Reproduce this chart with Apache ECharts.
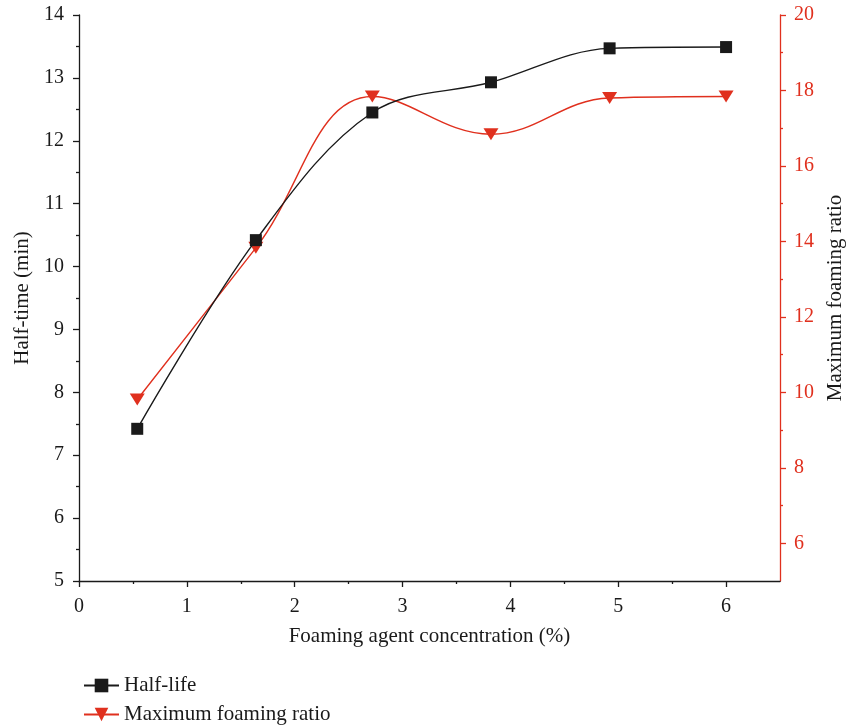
<!DOCTYPE html>
<html>
<head>
<meta charset="utf-8">
<script src="https://cdn.jsdelivr.net/npm/echarts@6/dist/echarts.min.js"></script>
<style>
  html, body { margin: 0; padding: 0; background: #fff; }
  #chart { width: 848px; height: 725px; }
</style>
</head>
<body>
<div id="chart"></div>
<script>
// Foaming agent concentration (%)
const concentration = [0.54, 1.64, 2.72, 3.82, 4.92, 6.0];
// Half-life (min), left axis
const halfLife = [7.42, 10.42, 12.45, 12.93, 13.47, 13.49];
// Maximum foaming ratio, right axis
const foamingRatio = [9.81, 13.83, 17.84, 16.84, 17.80, 17.84];

const xMajor = [0, 1, 2, 3, 4, 5, 6];
const xMinor = [0.5, 1.5, 2.5, 3.5, 4.5, 5.5];
const rightMajor = [6, 8, 10, 12, 14, 16, 18, 20];
const rightMinor = [7, 9, 11, 13, 15, 17, 19];

const BLACK = '#1a1a1a';
const RED = '#e0301e';
const FONT = 'Liberation Serif';
const LABEL_SIZE = 20;
const NAME_SIZE = 21;

const chart = echarts.init(document.getElementById('chart'));

function pairs(xs, ys) { return xs.map((x, i) => [x, ys[i]]); }

chart.setOption({
  animation: false,
  textStyle: { fontFamily: FONT },
  grid: { left: 79, right: 68, top: 15, bottom: 144, outerBoundsMode: 'none', containLabel: false },
  legend: {
    orient: 'vertical',
    left: 83,
    top: 675,
    padding: 0,
    itemWidth: 35,
    itemHeight: 17,
    itemGap: 8,
    textStyle: { fontFamily: FONT, fontSize: NAME_SIZE, color: BLACK },
    data: ['Half-life', 'Maximum foaming ratio']
  },
  xAxis: [
    {
      type: 'value', min: 0, max: 6.5, position: 'bottom',
      name: 'Foaming agent concentration (%)',
      nameLocation: 'middle', nameGap: 45,
      nameTextStyle: { fontFamily: FONT, fontSize: NAME_SIZE, color: BLACK },
      axisLine: { onZero: false, lineStyle: { color: BLACK, width: 1.3 } },
      axisTick: { show: true, length: 6, customValues: xMajor, lineStyle: { color: BLACK, width: 1.3 } },
      axisLabel: { customValues: xMajor, fontFamily: FONT, fontSize: LABEL_SIZE, color: BLACK, margin: 16 },
      splitLine: { show: false }
    },
    {
      type: 'value', min: 0, max: 6.5, position: 'bottom',
      axisLine: { show: false, onZero: false },
      axisTick: { show: true, length: 3, customValues: xMinor, lineStyle: { color: BLACK, width: 1.3 } },
      axisLabel: { show: false },
      splitLine: { show: false }
    }
  ],
  yAxis: [
    {
      type: 'value', min: 5, max: 14, interval: 1, position: 'left',
      name: 'Half-time (min)', nameLocation: 'middle', nameGap: 44, nameRotate: 90,
      nameTextStyle: { fontFamily: FONT, fontSize: NAME_SIZE, color: BLACK },
      axisLine: { show: true, onZero: false, lineStyle: { color: BLACK, width: 1.3 } },
      axisTick: { show: true, length: 6, lineStyle: { color: BLACK, width: 1.3 } },
      minorTick: { show: true, splitNumber: 2, length: 3, lineStyle: { color: BLACK, width: 1.3 } },
      axisLabel: { fontFamily: FONT, fontSize: LABEL_SIZE, color: BLACK, margin: 15 },
      splitLine: { show: false }
    },
    {
      type: 'value', min: 5, max: 20, position: 'right',
      name: 'Maximum foaming ratio', nameLocation: 'middle', nameGap: 38, nameRotate: 90,
      nameTextStyle: { fontFamily: FONT, fontSize: NAME_SIZE, color: BLACK },
      axisLine: { show: true, onZero: false, lineStyle: { color: RED, width: 1.3 } },
      axisTick: { show: true, length: 6, customValues: rightMajor, lineStyle: { color: RED, width: 1.3 } },
      axisLabel: { customValues: rightMajor, fontFamily: FONT, fontSize: LABEL_SIZE, color: RED, margin: 14 },
      splitLine: { show: false }
    },
    {
      type: 'value', min: 5, max: 20, position: 'right',
      axisLine: { show: false, onZero: false },
      axisTick: { show: true, length: 3, customValues: rightMinor, lineStyle: { color: RED, width: 1.3 } },
      axisLabel: { show: false },
      splitLine: { show: false }
    }
  ],
  series: [
    {
      name: 'Half-life', type: 'line', xAxisIndex: 0, yAxisIndex: 0,
      data: pairs(concentration, halfLife),
      smooth: 0.35,
      symbol: 'rect', symbolSize: 12,
      lineStyle: { color: BLACK, width: 1.4 },
      itemStyle: { color: BLACK },
      z: 3
    },
    {
      name: 'Maximum foaming ratio', type: 'line', xAxisIndex: 0, yAxisIndex: 1,
      data: pairs(concentration, foamingRatio),
      smooth: 0.4,
      symbol: 'triangle', symbolRotate: 180, symbolSize: [15, 12],
      lineStyle: { color: RED, width: 1.4 },
      itemStyle: { color: RED },
      z: 2
    }
  ]
});
</script>
</body>
</html>
